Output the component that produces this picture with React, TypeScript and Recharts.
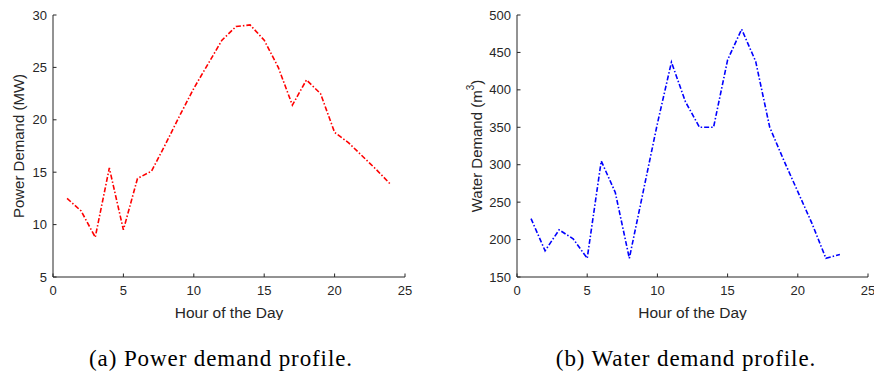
import React from "react";
import { LineChart, Line, XAxis, YAxis } from "recharts";

const powerHours = [1, 2, 3, 4, 5, 6, 7, 8, 9, 10, 11, 12, 13, 14, 15, 16, 17, 18, 19, 20, 21, 22, 23, 24];
const powerMW = [12.5, 11.3, 8.8, 15.4, 9.5, 14.4, 15.1, 17.7, 20.4, 23.0, 25.3, 27.6, 28.9, 29.05, 27.6, 25.0, 21.4, 23.8, 22.5, 18.8, 17.8, 16.5, 15.2, 13.8];

const waterHours = [1, 2, 3, 4, 5, 6, 7, 8, 9, 10, 11, 12, 13, 14, 15, 16, 17, 18, 19, 20, 21, 22, 23];
const waterM3 = [228, 185, 213, 201, 175, 305, 263, 175, 265, 355, 437, 384, 350, 350, 440, 481, 438, 350, 306, 264, 222, 175, 180];

const xTicks = [0, 5, 10, 15, 20, 25];
const powerTicks = [5, 10, 15, 20, 25, 30];
const waterTicks = [150, 200, 250, 300, 350, 400, 450, 500];

const xTitle = "Hour of the Day";
const powerTitle = "Power Demand (MW)";
const waterTitle = "Water Demand (m";
const captionA = "(a) Power demand profile.";
const captionB = "(b) Water demand profile.";

const powerData = powerHours.map((h, i) => ({ h, v: powerMW[i] }));
const waterData = waterHours.map((h, i) => ({ h, v: waterM3[i] }));

const AX = "#262626";
const FONT = "'Liberation Sans', Arial, sans-serif";
const TL = 3.5;

const BottomTick = (p: any) => (
  <g>
    <line x1={p.x} x2={p.x} y1={p.y} y2={p.y - TL} stroke={AX} strokeWidth={1} />
    <text x={p.x} y={p.y + 18} textAnchor="middle" fontFamily={FONT} fontSize={13} fill={AX}>
      {p.payload.value}
    </text>
  </g>
);
const TopTick = (p: any) => (
  <line x1={p.x} x2={p.x} y1={p.y} y2={p.y + TL} stroke={AX} strokeWidth={1} />
);
const LeftTick = (p: any) => (
  <g>
    <line x1={p.x} x2={p.x + TL} y1={p.y} y2={p.y} stroke={AX} strokeWidth={1} />
    <text x={p.x - 6} y={p.y + 4.5} textAnchor="end" fontFamily={FONT} fontSize={13} fill={AX}>
      {p.payload.value}
    </text>
  </g>
);
const RightTick = (p: any) => (
  <line x1={p.x} x2={p.x - TL} y1={p.y} y2={p.y} stroke={AX} strokeWidth={1} />
);

const XTitle = (p: any) => {
  const vb = p.viewBox;
  return (
    <text x={vb.x + vb.width / 2} y={vb.y + 41} textAnchor="middle" fontFamily={FONT} fontSize={15.5} fill={AX}>
      {xTitle}
    </text>
  );
};

const YTitle = (p: any) => {
  const vb = p.viewBox;
  const cx = vb.x + vb.width - p.off;
  const cy = vb.y + vb.height / 2;
  return (
    <text
      x={cx}
      y={cy}
      transform={`rotate(-90, ${cx}, ${cy})`}
      textAnchor="middle"
      dominantBaseline="central"
      fontFamily={FONT}
      fontSize={15}
      fill={AX}
    >
      {p.text}
      {p.sup ? (
        <>
          <tspan fontSize={10} dy={-6}>3</tspan>
          <tspan dy={6}>)</tspan>
        </>
      ) : null}
    </text>
  );
};

const Panel = (props: any) => {
  const { data, color, yTicks, yDomain, yWidth, rightMargin, title, sup, off } = props;
  return (
    <LineChart
      width={437}
      height={320}
      data={data}
      margin={{ top: 15, right: rightMargin, bottom: 0, left: 0 }}
    >
      <XAxis
        dataKey="h"
        type="number"
        domain={[0, 25]}
        ticks={xTicks}
        xAxisId="b"
        height={43}
        tickSize={0}
        tickMargin={0}
        tickLine={false}
        axisLine={{ stroke: AX, strokeWidth: 1 }}
        tick={BottomTick}
        interval={0}
        allowDataOverflow
        label={<XTitle />}
      />
      <XAxis
        dataKey="h"
        type="number"
        domain={[0, 25]}
        ticks={xTicks}
        xAxisId="t"
        orientation="top"
        height={0}
        tickSize={0}
        tickMargin={0}
        tickLine={false}
        axisLine={{ stroke: AX, strokeWidth: 1 }}
        tick={TopTick}
        interval={0}
      />
      <YAxis
        type="number"
        domain={yDomain}
        ticks={yTicks}
        yAxisId="l"
        width={yWidth}
        tickSize={0}
        tickMargin={0}
        tickLine={false}
        axisLine={{ stroke: AX, strokeWidth: 1 }}
        tick={LeftTick}
        interval={0}
        allowDataOverflow
        label={<YTitle text={title} sup={sup} off={off} />}
      />
      <YAxis
        type="number"
        domain={yDomain}
        ticks={yTicks}
        yAxisId="r"
        orientation="right"
        width={0}
        tickSize={0}
        tickMargin={0}
        tickLine={false}
        axisLine={{ stroke: AX, strokeWidth: 1 }}
        tick={RightTick}
        interval={0}
      />
      <Line
        xAxisId="b"
        yAxisId="l"
        dataKey="v"
        type="linear"
        stroke={color}
        strokeWidth={1.6}
        strokeDasharray="5 2 1.5 2"
        dot={false}
        activeDot={false}
        isAnimationActive={false}
      />
    </LineChart>
  );
};

const captionStyle: React.CSSProperties = {
  position: "absolute",
  top: 347,
  fontFamily: "'Liberation Serif', 'Times New Roman', serif",
  fontSize: 23,
  letterSpacing: "0.9px",
  color: "#000",
  whiteSpace: "nowrap",
  transform: "translateX(-50%)",
  lineHeight: "24px",
};

export default function App() {
  return (
    <div style={{ position: "absolute", left: 0, top: 0, width: 874, height: 376, background: "#fff", overflow: "hidden" }}>
      <div style={{ position: "absolute", left: 0, top: 0 }}>
        <Panel
          data={powerData}
          color="#ff0000"
          yTicks={powerTicks}
          yDomain={[5, 30]}
          yWidth={53}
          rightMargin={32}
          title={powerTitle}
          sup={false}
          off={35}
        />
      </div>
      <div style={{ position: "absolute", left: 437, top: 0 }}>
        <Panel
          data={waterData}
          color="#0000ff"
          yTicks={waterTicks}
          yDomain={[150, 500]}
          yWidth={80}
          rightMargin={6}
          title={waterTitle}
          sup={true}
          off={41}
        />
      </div>
      <div style={{ ...captionStyle, left: 221 }}>{captionA}</div>
      <div style={{ ...captionStyle, left: 686 }}>{captionB}</div>
    </div>
  );
}
